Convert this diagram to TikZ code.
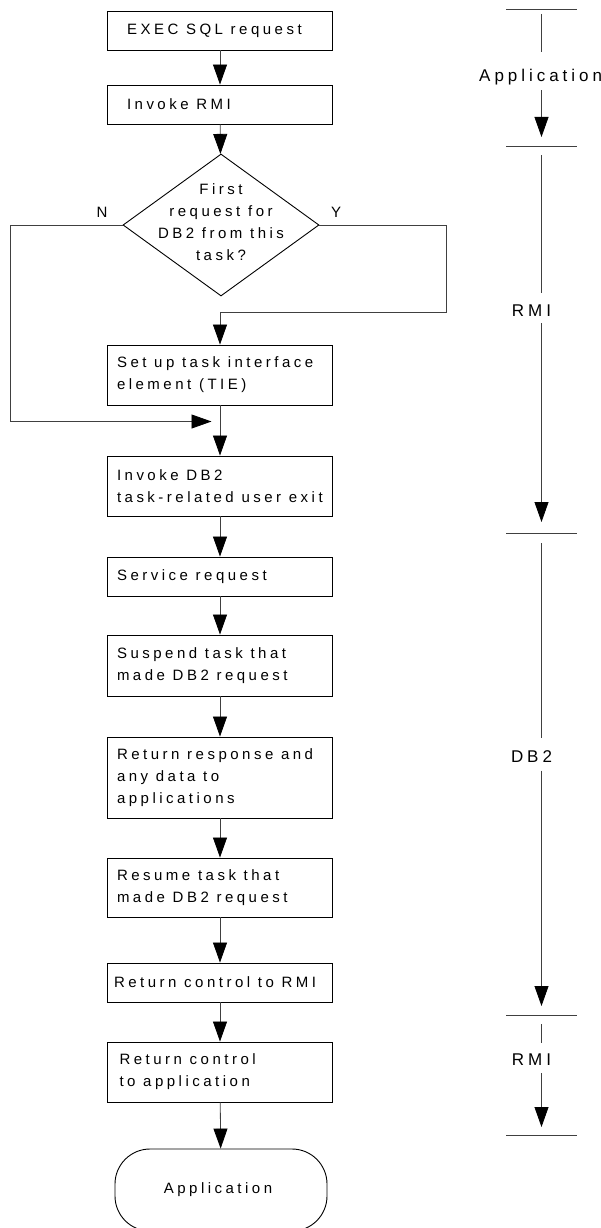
\documentclass[tikz,border=0pt]{standalone}
\usepackage{fontspec}
\setmainfont{Liberation Sans}
\usetikzlibrary{arrows.meta,positioning,shapes.geometric}
% wide letter spacing between all printable characters
\XeTeXinterchartokenstate=1
\chardef\wideclass=42
\newcount\wideidx
\wideidx=33
\loop
  \XeTeXcharclass\wideidx=\wideclass
  \advance\wideidx by 1
\ifnum\wideidx<127 \repeat
\XeTeXinterchartoks\wideclass\wideclass={\kern0.233em\relax}
\newcommand\flowfont{\fontsize{15}{22}\selectfont}
\newcommand\phasefont{\fontsize{17}{20}\selectfont}
\newcommand\widespace{\spaceskip=7.7pt\relax}

\begin{document}
\begin{tikzpicture}[
    x=1pt, y=-1pt,
    every node/.style={font=\flowfont, execute at begin node=\widespace},
    stepbox/.style={draw, line width=0.9pt, minimum width=225pt, minimum height=39pt,
        inner xsep=9.5pt, inner ysep=0pt, text width=206pt, align=left},
    decision/.style={draw, diamond, line width=0.9pt, minimum width=196pt, minimum height=142pt, inner sep=0pt},
    terminal/.style={draw, rectangle, rounded corners=35pt, line width=0.9pt, minimum width=212pt, minimum height=82pt},
    flow/.style={draw=black!75, line width=0.8pt, -{Triangle[length=20pt,width=14pt,color=black]}},
    rule/.style={draw=black!75, line width=0.8pt},
    phase/.style={inner sep=0pt, font=\phasefont}
]
\path[use as bounding box, clip] (0,0) rectangle (601,1228);

% main flow
\node[stepbox, inner xsep=19.5pt, text width=186pt] (exec) at (220,30.5) {EXEC SQL request};
\node[stepbox, inner xsep=19.5pt, text width=186pt] (rmi) at (220,104.5) {Invoke RMI};
\node[decision] (first) at (221,225) {};
\node[align=center, text width=150pt, inner sep=0pt] (firsttxt) at (221,222) {First\\request for\\DB2 from this\\task?};
\node[stepbox, minimum height=60pt] (tie) at (220,375) {Set up task interface\\element (TIE)};
\node[stepbox, minimum height=60pt] (invoke) at (220,486) {Invoke DB2\\task-related user exit};
\node[stepbox] (service) at (220,576.5) {Service request};
\node[stepbox, minimum height=61pt] (suspend) at (220,665.5) {Suspend task that\\made DB2 request};
\node[stepbox, minimum height=81pt] (respond) at (220,777.5) {Return response and\\any data to\\applications};
\node[stepbox, minimum height=59pt] (resume) at (220,887.5) {Resume task that\\made DB2 request};
\node[stepbox, inner xsep=6.5pt, text width=212pt] (retrmi) at (220,982.5) {Return control to RMI};
\node[stepbox, minimum height=60pt, inner xsep=12pt, text width=201pt] (retapp) at (220,1072) {Return control\\to application};
\node[terminal] (app) at (221,1190) {\hspace*{-6pt}Application};

\node (no) at (102,212) {N};
\node (yes) at (336,212) {Y};

\coordinate (ybend) at (446.5,312);
\coordinate (njoin) at (211.5,421.5);

\draw[flow] (exec) -- (rmi);
\draw[flow] (rmi) -- (first);
\draw[flow] (first.east) -| (ybend) -| (tie.north);
\draw[flow] (first.west) -- ++(-112,0) |- (njoin);
\draw[flow] (tie) -- (invoke);
\draw[flow] (invoke) -- (service);
\draw[flow] (service) -- (suspend);
\draw[flow] (suspend) -- (respond);
\draw[flow] (respond) -- (resume);
\draw[flow] (resume) -- (retrmi);
\draw[flow] (retrmi) -- (retapp);
\draw[flow] (retapp) -- (app);

% phases on the right
\coordinate (bar1) at (541.5,9);
\coordinate (bar2) at (541.5,146);
\coordinate (bar3) at (541.5,533);
\coordinate (bar4) at (541.5,1015);
\coordinate (bar5) at (541.5,1135);
\foreach \b in {bar1,bar2,bar3,bar4,bar5}
    \draw[rule] ([xshift=-35.5pt]\b) -- ([xshift=35.5pt]\b);

\node[phase, anchor=west] (papp) at (479,77) {Application};
\node[phase] (prmi) at (531.5,310.5) {RMI};
\node[phase] (pdb) at (531.5,757) {DB2};
\node[phase] (prmib) at (531.5,1060) {RMI};

\draw[rule] ([yshift=-5pt]bar1) -- ([yshift=17pt]bar1 |- papp.north);
\draw[flow] ([yshift=-5pt]bar1 |- papp.south) -- ([yshift=9pt]bar2);
\draw[rule] ([yshift=-9pt]bar2) -- ([yshift=11pt]bar2 |- prmi.north);
\draw[flow] ([yshift=-6.5pt]bar2 |- prmi.south) -- ([yshift=11pt]bar3);
\draw[rule] ([yshift=-10pt]bar3) -- ([yshift=13pt]bar3 |- pdb.north);
\draw[flow] ([yshift=-7.5pt]bar3 |- pdb.south) -- ([yshift=9pt]bar4);
\draw[rule] ([yshift=-9pt]bar4) -- ([yshift=11pt]bar4 |- prmib.north);
\draw[flow] ([yshift=-7pt]bar4 |- prmib.south) -- ([yshift=8pt]bar5);
\end{tikzpicture}
\end{document}
